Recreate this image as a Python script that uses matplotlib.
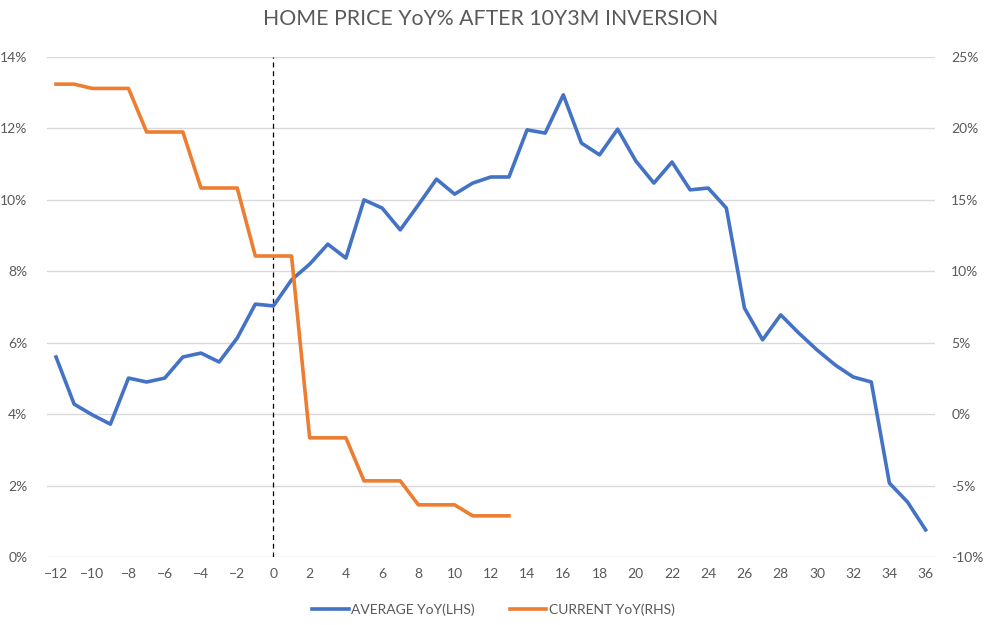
import numpy as np
import matplotlib
matplotlib.use('Agg')
import matplotlib.pyplot as plt
from matplotlib.ticker import FuncFormatter

plt.rcParams['font.family'] = ['Lato', 'DejaVu Sans']

months = list(range(-12, 37))
# average YoY (LHS), %
avg_yoy = [5.60, 4.28, 3.98, 3.72, 5.01, 4.90, 5.01, 5.60, 5.71, 5.46,
           6.13, 7.08, 7.03, 7.76, 8.20, 8.76, 8.37, 10.00, 9.77, 9.16,
           9.86, 10.58, 10.16, 10.47, 10.64, 10.64, 11.96, 11.87, 12.94, 11.59,
           11.26, 11.98, 11.09, 10.47, 11.06, 10.28, 10.33, 9.77, 6.97, 6.08,
           6.78, 6.27, 5.80, 5.38, 5.04, 4.90, 2.07, 1.54, 0.76]
# current YoY (RHS), %
cur_months = list(range(-12, 14))
cur_yoy = [23.1, 23.1, 22.8, 22.8, 22.8, 19.75, 19.75, 19.75, 15.83, 15.83,
           15.83, 11.07, 11.07, 11.07, -1.66, -1.66, -1.66, -4.67, -4.67, -4.67,
           -6.35, -6.35, -6.35, -7.12, -7.12, -7.12]

blue = '#4472C4'
orange = '#ED7D31'
grey = '#595959'
grid = '#D9D9D9'

fig = plt.figure(figsize=(9.87, 6.25), dpi=100)
ax = fig.add_axes([0.0476, 0.1088, 0.8994, 0.80])
ax2 = ax.twinx()

ax.set_xlim(-12.5, 36.5)
ax.set_ylim(0, 14)
ax2.set_ylim(-10, 25)
ax.set_yticks(np.arange(0, 15, 2))
ax2.set_yticks(np.arange(-10, 26, 5))
ax.set_xticks(np.arange(-12, 37, 2))
ax.yaxis.set_major_formatter(FuncFormatter(lambda v, p: f'{v:.0f}%'))
ax2.yaxis.set_major_formatter(FuncFormatter(lambda v, p: f'{v:.0f}%'))

ax.grid(axis='y', color=grid, linewidth=1)
ax.set_axisbelow(True)
for a in (ax, ax2):
    for s in a.spines.values():
        s.set_visible(False)
    a.tick_params(length=0, colors=grey, labelsize=10)
ax.tick_params(axis='y', pad=14)
ax2.tick_params(axis='y', pad=12)
ax.tick_params(axis='x', pad=8)

ax.axvline(0, color='black', linestyle=(0, (4, 3)), linewidth=0.9, zorder=1)

l1, = ax.plot(months, avg_yoy, color=blue, linewidth=2.6, solid_joinstyle='round',
              label='AVERAGE YoY(LHS)', zorder=3)
l2, = ax2.plot(cur_months, cur_yoy, color=orange, linewidth=2.6, solid_joinstyle='round',
               label='CURRENT YoY(RHS)', zorder=3)

fig.suptitle('HOME PRICE YoY% AFTER 10Y3M INVERSION', x=0.497, y=0.985,
             fontsize=15.3, color=grey)
fig.legend(handles=[l1, l2], loc='lower center', bbox_to_anchor=(0.5, -0.005),
           ncol=2, frameon=False, fontsize=10, labelcolor=grey,
           handlelength=2.6, handletextpad=0.2, columnspacing=2.5)

fig.savefig('out.png', dpi=100)
